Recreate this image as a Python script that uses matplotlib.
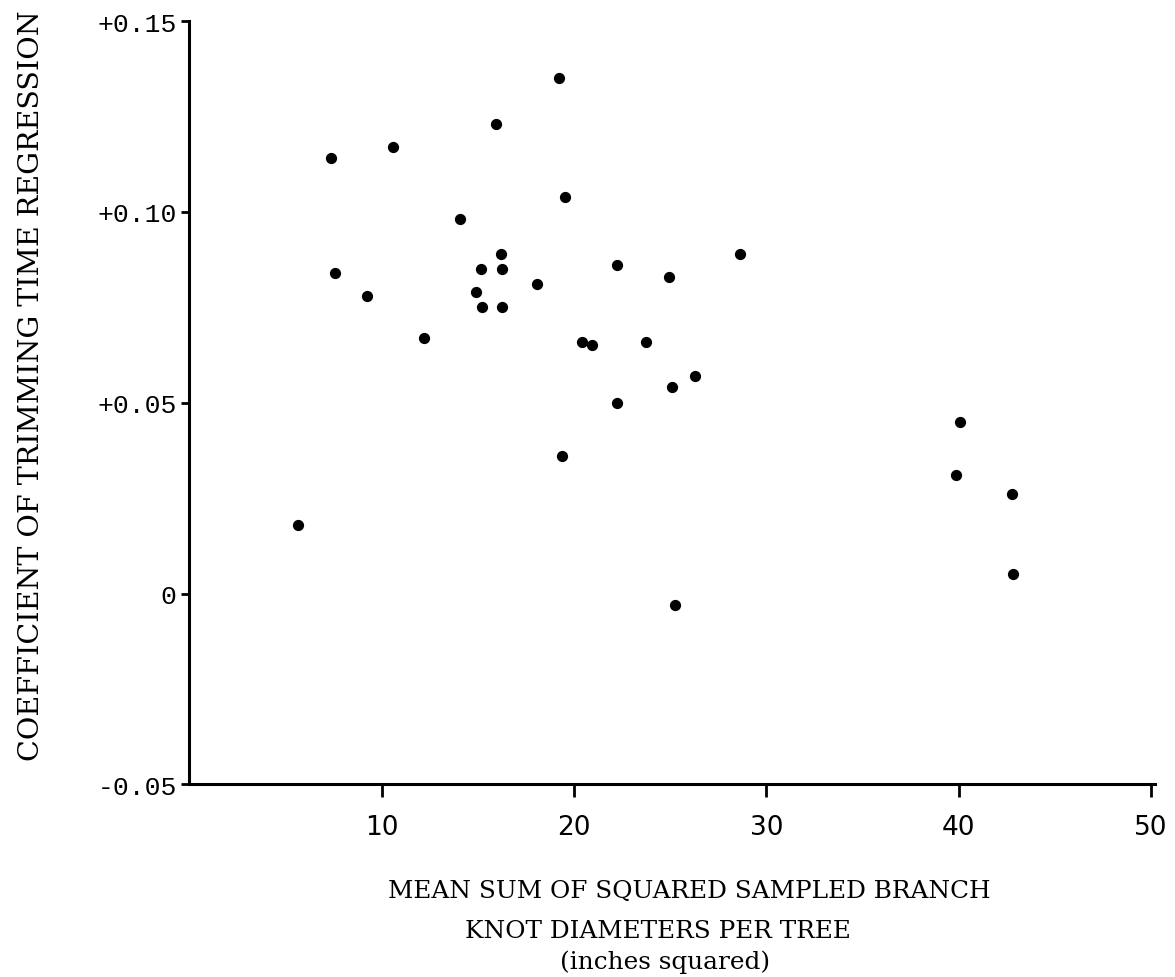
import matplotlib
matplotlib.use("Agg")
import matplotlib.pyplot as plt

# values
knot_sum = [5.65, 7.36, 7.56, 9.22, 10.57, 12.23, 14.09, 14.92, 15.18, 15.23,
            15.96, 16.22, 16.27, 16.27, 18.08, 19.20, 19.53, 19.38, 20.41, 20.93,
            22.23, 22.23, 23.73, 24.92, 25.08, 26.30, 25.23, 28.65, 40.05, 39.84,
            42.75, 42.80]
coef = [0.018, 0.114, 0.084, 0.078, 0.117, 0.067, 0.098, 0.079, 0.085, 0.075,
        0.123, 0.089, 0.085, 0.075, 0.081, 0.135, 0.104, 0.036, 0.066, 0.065,
        0.086, 0.050, 0.066, 0.083, 0.054, 0.057, -0.003, 0.089, 0.045, 0.031,
        0.026, 0.005]

x_ticks = [10, 20, 30, 40, 50]
y_ticks = [-0.05, 0, 0.05, 0.10, 0.15]
y_tick_labels = ["-0.05", "0", "+0.05", "+0.10", "+0.15"]

fig = plt.figure(figsize=(11.75, 9.78), dpi=100)
ax = fig.add_axes([0.161, 0.197, 0.822, 0.7805])

ax.scatter(knot_sum, coef, s=50, color="black", zorder=3)

ax.set_xlim(0, 50.2)
ax.set_ylim(-0.05, 0.15)

for side in ["top", "right"]:
    ax.spines[side].set_visible(False)
for side in ["left", "bottom"]:
    ax.spines[side].set_linewidth(2.2)

ax.set_xticks(x_ticks)
ax.set_xticklabels([str(t) for t in x_ticks], family="DejaVu Sans", fontsize=19)
ax.set_yticks(y_ticks)
ax.set_yticklabels(y_tick_labels, family="Liberation Mono", fontsize=19)

ax.tick_params(axis="x", direction="out", length=9, width=2, pad=12)
ax.tick_params(axis="y", direction="out", length=6, width=2, pad=3)

ax.set_ylabel("COEFFICIENT OF TRIMMING TIME REGRESSION",
              family="DejaVu Serif", fontsize=20.5)
ax.yaxis.set_label_coords(-0.149, 0.524)

# x axis title, three lines as typed in the original
fig.text(0.587, 0.0818, "MEAN SUM OF SQUARED SAMPLED BRANCH",
         family="DejaVu Serif", fontsize=17.8, ha="center", va="baseline")
fig.text(0.560, 0.0409, "KNOT DIAMETERS PER TREE",
         family="DejaVu Serif", fontsize=17.8, ha="center", va="baseline")
fig.text(0.566, 0.0095, "(inches squared)",
         family="DejaVu Serif", fontsize=17.8, ha="center", va="baseline")

plt.savefig("out.png", dpi=100, facecolor="white")
